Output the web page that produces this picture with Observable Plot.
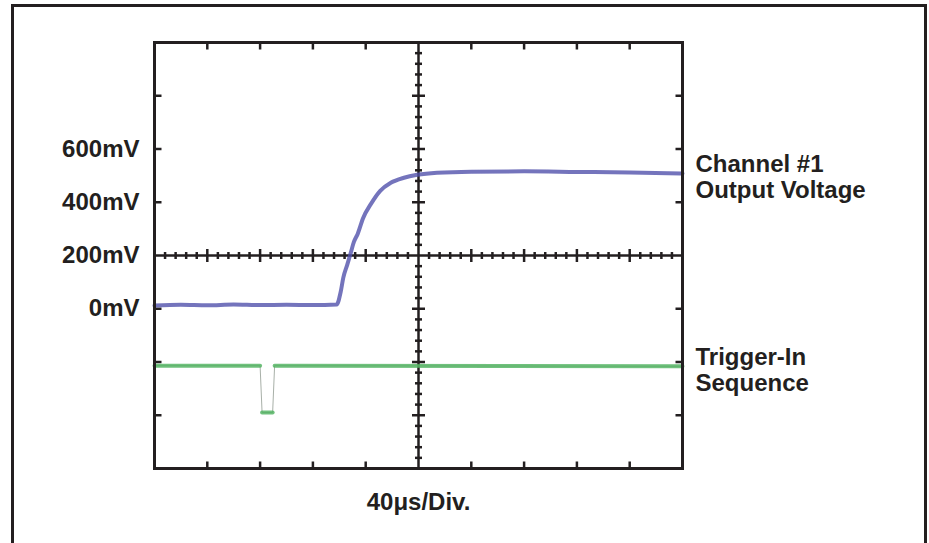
<!DOCTYPE html>
<html><head><meta charset="utf-8">
<script src="https://cdn.jsdelivr.net/npm/d3@7"></script>
<script src="https://cdn.jsdelivr.net/npm/@observablehq/plot@0.6"></script>
<style>
body{margin:0;background:#fff;}
#wrap{position:relative;width:929px;height:543px;overflow:hidden;background:#fff;}
#border{position:absolute;left:11px;top:4px;width:916px;height:620px;border:3px solid #231f20;box-sizing:border-box;pointer-events:none;}
</style></head><body>
<div id="wrap"><div id="chart"></div><div id="border"></div></div>
<script>
// Channel #1 output voltage (time in µs, level in mV)
const blueTime  = [0, 20, 40, 60, 80, 100, 120, 138, 141, 143, 146, 148.5, 151, 154, 158, 164, 171, 179, 189, 199, 214, 240, 280, 320, 360, 400];
const blueLevel = [12, 15, 13, 16, 14, 15, 14, 16, 62, 116, 165, 207, 250, 282, 340, 394, 443, 473, 492, 503, 511, 515, 516, 514, 512, 508];
// Trigger-In sequence
const greenTime  = [0, 80, 81.5, 89.5, 91, 400];
const greenLevel = [-214, -214, -390, -390, -214, -216];
const greenPiece = ["a", "a", "b", "b", "c", "c"];
// Tick labels and texts
const yTickValues = [0, 200, 400, 600];
const yTickUnit = "mV";
const blueName = ["Channel #1", "Output Voltage"];
const greenName = ["Trigger-In", "Sequence"];
const xLabel = ["40μs/Div."];
// Scope graticule
const majorTimes = [40, 80, 120, 160, 240, 280, 320, 360];
const majorLevels = [-400, -200, 0, 400, 600, 800];
const minorTimes = d3.range(0, 401, 8).filter(t => t % 40 !== 0);
const minorLevels = d3.range(-600, 1001, 40).filter(v => v % 200 !== 0);

const blue = blueTime.map((t, i) => ({t, v: blueLevel[i]}));
const green = greenTime.map((t, i) => ({t, v: greenLevel[i], p: greenPiece[i]}));
const blueEnd = blueLevel[blueLevel.length - 1];
const greenEnd = greenLevel[greenLevel.length - 1];

const ink = "#231f20";
const tickShape = {draw(ctx, l) { ctx.moveTo(0, 0); ctx.lineTo(0, -l); }};
const font = "'Liberation Sans', Arial, Helvetica, sans-serif";
const tx = {fontSize: 24, fontWeight: "bold", fill: ink};
const tk = {shape: tickShape, stroke: ink, strokeWidth: 2.5, strokeLinecap: "butt"};

const chart = Plot.plot({
  width: 929,
  height: 543,
  marginLeft: 154,
  marginRight: 247,
  marginTop: 42,
  marginBottom: 75,
  style: {fontFamily: font, fontSize: "24px", fontWeight: "bold", color: ink, background: "transparent"},
  x: {domain: [0, 400], axis: null},
  y: {domain: [-600, 1000]},
  marks: [
    Plot.axisY(yTickValues, {tickSize: 0, tickPadding: 15, tickFormat: d => `${d}${yTickUnit}`, label: null, ...tx}),
    // crosshair
    Plot.ruleX([200], {stroke: ink, strokeWidth: 2.5}),
    Plot.ruleY([200], {stroke: ink, strokeWidth: 2.5}),
    // ticks on horizontal center line
    Plot.vector(minorTimes, {x: d => d, y: 200, length: 7, rotate: 0, anchor: "middle", ...tk}),
    Plot.vector(majorTimes, {x: d => d, y: 200, length: 13, rotate: 0, anchor: "middle", ...tk}),
    // ticks on vertical center line
    Plot.vector(minorLevels, {x: 200, y: d => d, length: 7, rotate: 90, anchor: "middle", ...tk}),
    Plot.vector(majorLevels, {x: 200, y: d => d, length: 13, rotate: 90, anchor: "middle", ...tk}),
    // edge ticks
    Plot.vector(majorTimes, {x: d => d, y: 1000, length: 7, rotate: 180, anchor: "start", ...tk}),
    Plot.vector(majorTimes, {x: d => d, y: -600, length: 7, rotate: 0, anchor: "start", ...tk}),
    Plot.vector(majorLevels, {x: 0, y: d => d, length: 7, rotate: 90, anchor: "start", ...tk}),
    Plot.vector(majorLevels, {x: 400, y: d => d, length: 7, rotate: 270, anchor: "start", ...tk}),
    // traces
    Plot.line(green, {x: "t", y: "v", stroke: "#a8b0a8", strokeWidth: 1}),
    Plot.line(green, {x: "t", y: "v", z: "p", stroke: "#4cb15c", strokeWidth: 4, strokeOpacity: 0.8}),
    Plot.line(blue, {x: "t", y: "v", stroke: "#5151ab", strokeWidth: 4, strokeOpacity: 0.8, curve: "monotone-x"}),
    Plot.frame({stroke: ink, strokeWidth: 3}),
    // series labels
    Plot.text([blueName[0]], {x: 400, y: blueEnd, text: d => d, dx: 13, dy: -9, textAnchor: "start", lineAnchor: "middle", ...tx}),
    Plot.text([blueName[1]], {x: 400, y: blueEnd, text: d => d, dx: 13, dy: 17, textAnchor: "start", lineAnchor: "middle", ...tx}),
    Plot.text([greenName[0]], {x: 400, y: greenEnd, text: d => d, dx: 13, dy: -9, textAnchor: "start", lineAnchor: "middle", ...tx}),
    Plot.text([greenName[1]], {x: 400, y: greenEnd, text: d => d, dx: 13, dy: 17, textAnchor: "start", lineAnchor: "middle", ...tx}),
    Plot.text(xLabel, {x: 200, frameAnchor: "bottom", text: d => d, dy: 34, lineAnchor: "middle", ...tx})
  ]
});
document.getElementById("chart").append(chart);
</script>
</body></html>
